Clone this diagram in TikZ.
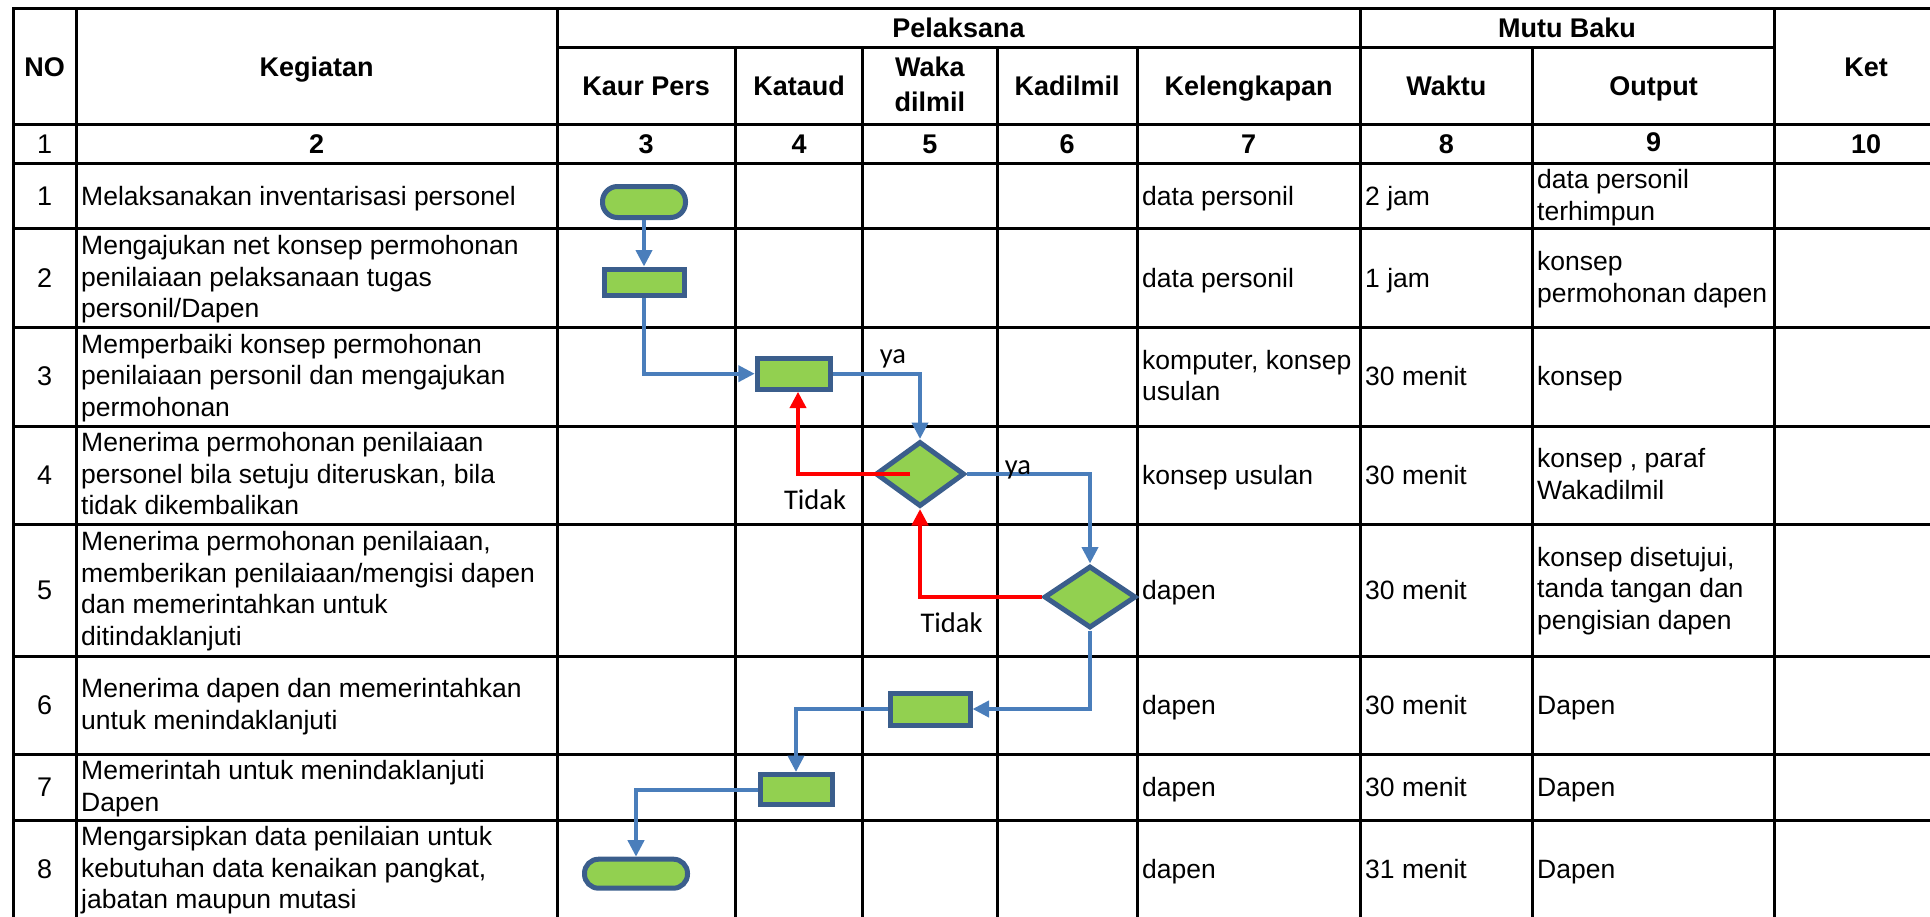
\documentclass[tikz,border=0pt]{standalone}
\usepackage{fontspec}
\setmainfont{Liberation Sans}
\newfontfamily\labelfont{Carlito}
\usetikzlibrary{shapes.geometric,arrows.meta,calc}

\definecolor{shapefill}{HTML}{92D050}
\definecolor{shapeline}{HTML}{3B5E8C}
\definecolor{flowblue}{HTML}{4A7EBB}
\definecolor{backred}{HTML}{FF0000}

% strut giving every cell line the ascent and descent of the sheet font
\newcommand\cellstrut{\rule[-5.6pt]{0pt}{29.6pt}}

\begin{document}
\begin{tikzpicture}[x=1pt,y=-1pt,
  grid/.style={line width=3pt,black,line cap=rect},
  hdr/.style={font=\fontsize{27}{32.5}\selectfont\bfseries,inner sep=0pt,align=center,
    execute at begin node=\cellstrut,execute at end node=\cellstrut},
  plainnum/.style={hdr,font=\fontsize{27}{32.5}\selectfont},
  cell/.style={font=\fontsize{26.5}{31.5}\selectfont,inner sep=0pt,align=left,anchor=west,
    execute at begin node=\cellstrut,execute at end node=\cellstrut},
  proc/.style={draw=shapeline,fill=shapefill,line width=5pt,rectangle,inner sep=0pt},
  term/.style={proc},
  dec/.style={draw=shapeline,fill=shapefill,line width=5pt,diamond,inner sep=0pt},
  flow/.style={draw=flowblue,line width=4pt,-{Triangle[length=16.5pt,width=16pt]}},
  back/.style={draw=backred,line width=4.5pt,-{Triangle[length=16.5pt,width=16pt]}},
  lbl/.style={font=\labelfont\fontsize{28.5}{30}\selectfont,inner sep=0pt}
]
\useasboundingbox (0,0) rectangle (1930,916);

% ---- table rules ----
\foreach \x in {13,76.5,557,1360,1774.3}
  \draw[grid] (\x,8.3) -- (\x,916);
\foreach \x in {735.5,862.7,997,1137.3,1532.7}
  \draw[grid] (\x,47.7) -- (\x,916);
\foreach \y in {8.3,124.3,163.3,228.7,327.3,426,524,656,754.3,820}
  \draw[grid] (13,\y) -- (1935,\y);
\draw[grid] (557,47.7) -- (1774.3,47.7);

% ---- header ----
\node[hdr] (hNo)    at (44.7,67.5)  {NO};
\node[hdr] (hKeg)   at (316.7,67.5) {Kegiatan};
\node[hdr] (hPel)   at (958.5,28)   {Pelaksana};
\node[hdr] (hMutu)  at (1567,28)    {Mutu Baku};
\node[hdr] (hKet)   at (1866,67.5)  {Ket};
\node[hdr] (hKaur)  at (646.2,86)   {Kaur Pers};
\node[hdr] (hKat)   at (799.1,86)   {Kataud};
\node[hdr] (hWaka)  at (929.9,87)   {Waka\\[3pt]dilmil};
\node[hdr] (hKadil) at (1067.2,86)  {Kadilmil};
\node[hdr] (hKel)   at (1248.7,86)  {Kelengkapan};
\node[hdr] (hWaktu) at (1446.4,86)  {Waktu};
\node[hdr] (hOut)   at (1653.5,86)  {Output};

% ---- column numbers ----
\node[plainnum] (n1) at (44.7,143.8) {1};
\node[hdr] (n2)  at (316.7,143.8)  {2};
\node[hdr] (n3)  at (646.2,143.8)  {3};
\node[hdr] (n4)  at (799.1,143.8)  {4};
\node[hdr] (n5)  at (929.9,143.8)  {5};
\node[hdr] (n6)  at (1067.2,143.8) {6};
\node[hdr] (n7)  at (1248.7,143.8) {7};
\node[hdr] (n8)  at (1446.4,143.8) {8};
\node[hdr] (n9)  at (1653.5,142)   {9};
\node[hdr] (n10) at (1866,143.8)   {10};

% ---- row numbers ----
\foreach \r/\y in {1/196,2/278,3/376.7,4/475,5/590,6/705.2,7/787.2,8/869}
  \node[plainnum] (no\r) at (44.7,\y) {\r};

% ---- activities ----
\node[cell] (k1) at (81,196)   {Melaksanakan inventarisasi personel};
\node[cell] (k2) at (81,279.5) {Mengajukan net konsep permohonan\\penilaiaan pelaksanaan tugas\\personil/Dapen};
\node[cell] (k3) at (81,378)   {Memperbaiki konsep permohonan\\penilaiaan personil dan mengajukan\\permohonan};
\node[cell] (k4) at (81,476.5) {Menerima permohonan penilaiaan\\personel bila setuju diteruskan, bila\\tidak dikembalikan};
\node[cell] (k5) at (81,591)   {Menerima permohonan penilaiaan,\\memberikan penilaiaan/mengisi dapen\\dan memerintahkan untuk\\ditindaklanjuti};
\node[cell] (k6) at (81,706.5) {Menerima dapen dan memerintahkan\\untuk menindaklanjuti};
\node[cell] (k7) at (81,788.5) {Memerintah untuk menindaklanjuti\\Dapen};
\node[cell] (k8) at (81,870.5) {Mengarsipkan data penilaian untuk\\kebutuhan data kenaikan pangkat,\\jabatan maupun mutasi};

% ---- completeness ----
\node[cell] (l1) at (1142,196)   {data personil};
\node[cell] (l2) at (1142,278)   {data personil};
\node[cell] (l3) at (1142,378)   {komputer, konsep\\usulan};
\node[cell] (l4) at (1142,475)   {konsep usulan};
\node[cell] (l5) at (1142,590)   {dapen};
\node[cell] (l6) at (1142,705.2) {dapen};
\node[cell] (l7) at (1142,787.2) {dapen};
\node[cell] (l8) at (1142,869)   {dapen};

% ---- time ----
\node[cell] (w1) at (1365,196)   {2 jam};
\node[cell] (w2) at (1365,278)   {1 jam};
\node[cell] (w3) at (1365,376.7) {30 menit};
\node[cell] (w4) at (1365,475)   {30 menit};
\node[cell] (w5) at (1365,590)   {30 menit};
\node[cell] (w6) at (1365,705.2) {30 menit};
\node[cell] (w7) at (1365,787.2) {30 menit};
\node[cell] (w8) at (1365,869)   {31 menit};

% ---- output ----
\node[cell] (o1) at (1537,197.5) {data personil\\terhimpun};
\node[cell] (o2) at (1537,279.5) {konsep\\permohonan dapen};
\node[cell] (o3) at (1537,376.7) {konsep};
\node[cell] (o4) at (1537,476.5) {konsep , paraf\\Wakadilmil};
\node[cell] (o5) at (1537,591)   {konsep disetujui,\\tanda tangan dan\\pengisian dapen};
\node[cell] (o6) at (1537,705.2) {Dapen};
\node[cell] (o7) at (1537,787.2) {Dapen};
\node[cell] (o8) at (1537,869)   {Dapen};

% ---- flowchart symbols ----
\node[term,minimum width=83pt,minimum height=31pt,rounded corners=15pt] (start) at (644,202) {};
\node[proc,minimum width=80pt,minimum height=26pt] (b2) at (644,282) {};
\node[proc,minimum width=73.5pt,minimum height=31pt] (b3) at (794,373.7) {};
\node[dec,minimum width=89pt,minimum height=65pt] (d1) at (920,474) {};
\node[dec,minimum width=92pt,minimum height=62pt] (d2) at (1090,597) {};
\node[proc,minimum width=80pt,minimum height=32pt] (b6) at (930,709) {};
\node[proc,minimum width=72pt,minimum height=30pt] (b7) at (796,789.5) {};
\node[term,minimum width=103pt,minimum height=29pt,rounded corners=14pt] (stop) at (636,873.7) {};

% ---- flow connectors ----
\draw[flow] (start.south) -- (b2.north);
\draw[flow] (b2.south) |- (b3.west);
\draw[flow] (b3.east) -| (d1.north);
\draw[back] ([xshift=-10pt]d1.center) -| ([xshift=4pt]b3.south);
\draw[flow] (d1.east) -| (d2.north);
\draw[back] (d2.west) -| (d1.south);
\draw[flow] (d2.south) |- (b6.east);
\draw[flow] (b6.west) -| (b7.north);
\draw[flow] (b7.west) -| (stop.north);

% ---- decision labels ----
\node[lbl] (ya1) at (893,359)    {ya};
\node[lbl] (no1) at (815,500)    {Tidak};
\node[lbl] (ya2) at (1018,470)   {ya};
\node[lbl] (no2) at (951.5,623)  {Tidak};
\end{tikzpicture}
\end{document}
